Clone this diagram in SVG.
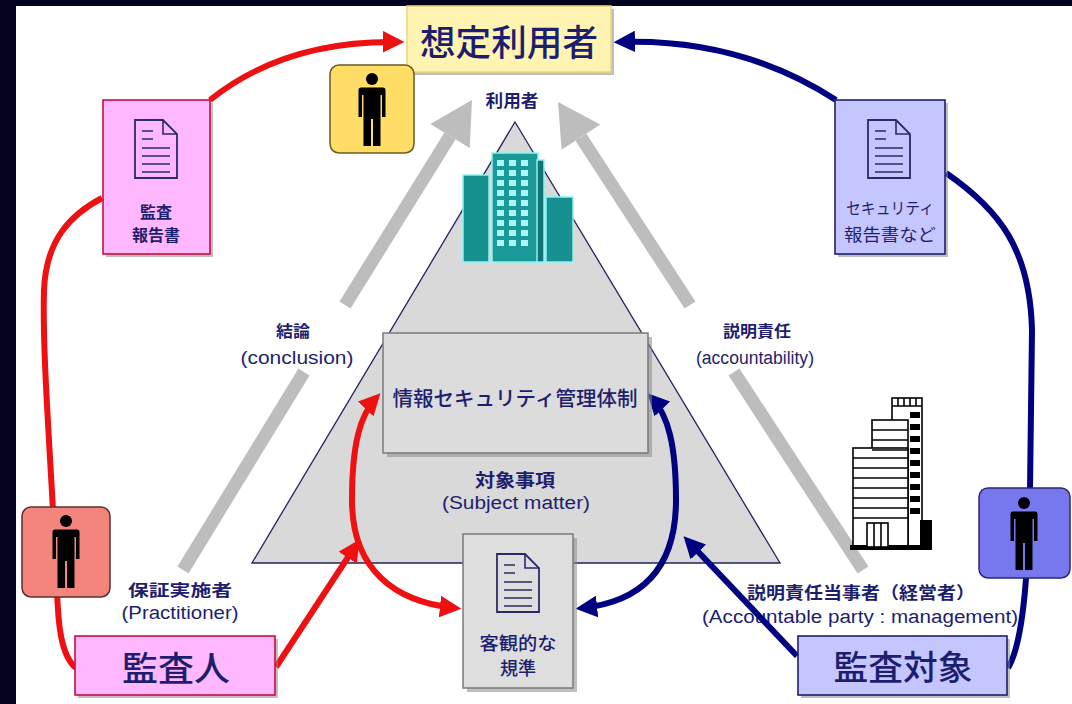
<svg xmlns="http://www.w3.org/2000/svg" width="1072" height="704" viewBox="0 0 1072 704">
  <defs>
    <style>
      .jp { font-family: "Noto Sans CJK JP", "Noto Sans", sans-serif; fill: #1e1e6e; text-anchor: middle; }
      .en { font-family: "Liberation Sans", Arial, sans-serif; fill: #1e1e6e; text-anchor: middle; font-size: 18px; }
      .b { font-weight: bold; }
      .m { font-weight: 500; }
      .shadow { fill: #8a8a8a; opacity: 0.55; }
      .gray-arrow { stroke: #bdbdbd; stroke-width: 13; fill: none; }
      .red { stroke: #ee1111; stroke-width: 6; fill: none; }
      .blue { stroke: #000080; stroke-width: 6; fill: none; }
      .docline { stroke: #2a2a6a; stroke-width: 1.6; }
    </style>
    <marker id="headRed" viewBox="0 0 10 10" refX="7" refY="5" markerWidth="3.6" markerHeight="3.6" orient="auto-start-reverse">
      <path d="M0,0 L10,5 L0,10 Z" fill="#ee1111"/>
    </marker>
    <marker id="headBlue" viewBox="0 0 10 10" refX="7" refY="5" markerWidth="3.6" markerHeight="3.6" orient="auto-start-reverse">
      <path d="M0,0 L10,5 L0,10 Z" fill="#000080"/>
    </marker>
    <!-- standing person pictogram, origin at top centre -->
    <g id="person">
      <circle cx="0" cy="6" r="6" fill="#000"/>
      <path d="M -13.5,17 Q -13.5,14.5 -11,14.5 L 11,14.5 Q 13.5,14.5 13.5,17 L 13.5,44 L 10,44 L 10,22 L 8.5,22 L 8.5,73 L 1,73 L 1,46 L -1,46 L -1,73 L -8.5,73 L -8.5,22 L -10,22 L -10,44 L -13.5,44 Z" fill="#000"/>
    </g>
    <!-- document sheet with folded corner -->
    <g id="doc">
      <path d="M0,0 H28 L42,14 V58 H0 Z" fill="none" stroke="#2a2a6a" stroke-width="1.8"/>
      <path d="M28,0 V14 H42" fill="none" stroke="#2a2a6a" stroke-width="1.6"/>
      <path class="docline" d="M7,11 H18 M7,19 H18 M7,28 H35 M7,36 H35 M7,44 H35 M7,52 H35"/>
    </g>
  </defs>

  <!-- frame -->
  <rect x="0" y="0" width="1072" height="704" fill="#03031f"/>
  <rect x="16" y="6" width="1056" height="698" fill="#ffffff"/>

  <!-- wide gray flow arrows toward the users -->
  <g id="flow-arrows">
    <path class="gray-arrow" d="M183,570 L304,372 M345,305 L450,136"/>
    <path d="M472,100 L469.7,148 L430.3,124 Z" fill="#bdbdbd"/>
    <path class="gray-arrow" d="M863,570 L734,372 M690,305 L580.9,137.2"/>
    <path d="M558,102 L600.2,124.6 L561.6,149.8 Z" fill="#bdbdbd"/>
  </g>

  <!-- subject-matter triangle -->
  <g id="triangle">
    <path d="M515,122 L780,563 L252,563 Z" fill="#d9d9d9" stroke="#23235f" stroke-width="1.3"/>
  </g>

  <!-- teal office towers -->
  <g id="teal-building" stroke="#8ff2f2" stroke-width="1.5">
    <rect x="463" y="175" width="26" height="87" fill="#179090"/>
    <rect x="492" y="153" width="46" height="109" fill="#1a9999"/>
    <rect x="537" y="160" width="7" height="102" fill="#127474"/>
    <rect x="546" y="197" width="27" height="65" fill="#179090"/>
    <g fill="#aef6f6" stroke="none">
      <rect x="497" y="160" width="7" height="6"/><rect x="509" y="160" width="7" height="6"/><rect x="521" y="160" width="7" height="6"/>
      <rect x="497" y="170" width="7" height="6"/><rect x="509" y="170" width="7" height="6"/><rect x="521" y="170" width="7" height="6"/>
      <rect x="497" y="180" width="7" height="6"/><rect x="509" y="180" width="7" height="6"/><rect x="521" y="180" width="7" height="6"/>
      <rect x="497" y="190" width="7" height="6"/><rect x="509" y="190" width="7" height="6"/><rect x="521" y="190" width="7" height="6"/>
      <rect x="497" y="200" width="7" height="6"/><rect x="509" y="200" width="7" height="6"/><rect x="521" y="200" width="7" height="6"/>
      <rect x="497" y="210" width="7" height="6"/><rect x="509" y="210" width="7" height="6"/><rect x="521" y="210" width="7" height="6"/>
      <rect x="497" y="220" width="7" height="6"/><rect x="509" y="220" width="7" height="6"/><rect x="521" y="220" width="7" height="6"/>
      <rect x="497" y="230" width="7" height="6"/><rect x="509" y="230" width="7" height="6"/><rect x="521" y="230" width="7" height="6"/>
      <rect x="497" y="240" width="7" height="6"/><rect x="509" y="240" width="7" height="6"/><rect x="521" y="240" width="7" height="6"/>
    </g>
  </g>

  <!-- black-and-white office building -->
  <g id="mono-building" stroke="#000" stroke-width="1.6" fill="#fff">
    <rect x="892" y="398" width="30" height="150"/>
    <rect x="872" y="420" width="36" height="128"/>
    <rect x="853" y="448" width="55" height="100"/>
    <path d="M892,406 H922 M853,458 H908 M853,468 H908 M853,478 H908 M853,488 H908 M853,498 H908 M853,508 H908 M853,518 H908 M872,430 H908 M872,440 H908 M872,450 H908" fill="none"/>
    <path d="M898,398 V406 M904,398 V406 M910,398 V406 M916,398 V406" fill="none"/>
    <g fill="#000" stroke="none">
      <rect x="910" y="412" width="10" height="6"/><rect x="910" y="424" width="10" height="6"/>
      <rect x="910" y="436" width="10" height="6"/><rect x="910" y="448" width="10" height="6"/>
      <rect x="910" y="460" width="10" height="6"/><rect x="910" y="472" width="10" height="6"/>
      <rect x="910" y="484" width="10" height="6"/><rect x="910" y="496" width="10" height="6"/>
      <rect x="910" y="508" width="10" height="6"/>
      <rect x="920" y="520" width="12" height="28"/>
      <rect x="850" y="545" width="82" height="5"/>
    </g>
    <rect x="867" y="523" width="21" height="24"/>
    <path d="M874,523 V547 M881,523 V547" fill="none"/>
  </g>

  <!-- free-standing labels -->
  <g id="labels">
    <text class="jp b" x="512" y="107" font-size="17" textLength="53" lengthAdjust="spacingAndGlyphs">利用者</text>
    <text class="jp b" x="293" y="337" font-size="16" textLength="34" lengthAdjust="spacingAndGlyphs">結論</text>
    <text class="en" x="297" y="364" textLength="113" lengthAdjust="spacingAndGlyphs">(conclusion)</text>
    <text class="jp b" x="757" y="337" font-size="16" textLength="68" lengthAdjust="spacingAndGlyphs">説明責任</text>
    <text class="en" x="755" y="364" textLength="118" lengthAdjust="spacingAndGlyphs">(accountability)</text>
    <text class="jp b" x="515" y="487" font-size="18" textLength="80" lengthAdjust="spacingAndGlyphs">対象事項</text>
    <text class="en" x="516" y="509" textLength="148" lengthAdjust="spacingAndGlyphs">(Subject matter)</text>
    <text class="jp b" x="180" y="596" font-size="16" textLength="104" lengthAdjust="spacingAndGlyphs">保証実施者</text>
    <text class="en" x="180" y="619" textLength="117" lengthAdjust="spacingAndGlyphs">(Practitioner)</text>
    <text class="jp b" x="861" y="599" font-size="17" textLength="228" lengthAdjust="spacingAndGlyphs">説明責任当事者（経営者）</text>
    <text class="en" x="860" y="623" textLength="316" lengthAdjust="spacingAndGlyphs">(Accountable party : management)</text>
  </g>

  <!-- connectors -->
  <g id="connectors">
    <path class="red" d="M76,668 C60,655 58,620 57,590 C52,470 42,360 44,290 C46,240 70,215 102,198"/>
    <path class="red" d="M210,100 Q285,40 398,42" marker-end="url(#headRed)"/>
    <path class="red" d="M276,667 L356,545" marker-end="url(#headRed)"/>
    <path class="red" d="M455,608 C395,602 352,570 352,500 C352,445 360,415 376,398" marker-start="url(#headRed)" marker-end="url(#headRed)"/>
    <path class="blue" d="M946,173 C1000,210 1030,250 1032,330 L1030,490 C1028,560 1025,640 1008,668"/>
    <path class="blue" d="M836,100 Q740,38 620,42" marker-end="url(#headBlue)"/>
    <path class="blue" d="M797,656 L688,541" marker-end="url(#headBlue)"/>
    <path class="blue" d="M582,608 C640,602 676,570 676,500 C676,445 668,415 652,398" marker-start="url(#headBlue)" marker-end="url(#headBlue)"/>
  </g>

  <!-- intended users -->
  <g id="intended-users">
    <rect class="shadow" x="410" y="9" width="204" height="66"/>
    <rect x="407" y="6" width="204" height="66" fill="#fff4b2" stroke="#eed67a" stroke-width="1.5"/>
    <text class="jp m" x="509" y="56" font-size="36" textLength="178" lengthAdjust="spacingAndGlyphs">想定利用者</text>
  </g>

  <g id="user-person">
    <rect x="330" y="65" width="84" height="88" rx="9" fill="#ffdd66" stroke="#6a5a20" stroke-width="1.5"/>
    <use href="#person" x="372" y="73"/>
  </g>

  <!-- audit report -->
  <g id="audit-report">
    <rect class="shadow" x="106" y="103" width="107" height="154"/>
    <rect x="103" y="100" width="107" height="154" fill="#ffb8ff" stroke="#c8103a" stroke-width="1.6"/>
    <use href="#doc" x="135" y="120"/>
    <text class="jp b" x="156" y="218" font-size="16">監査</text>
    <text class="jp b" x="156" y="241" font-size="16">報告書</text>
  </g>

  <!-- security report -->
  <g id="security-report">
    <rect class="shadow" x="838" y="103" width="110" height="154"/>
    <rect x="835" y="100" width="110" height="154" fill="#c6c6ff" stroke="#1e1e6e" stroke-width="1.6"/>
    <use href="#doc" x="868" y="120"/>
    <text class="jp" x="890" y="214" font-size="16" textLength="88" lengthAdjust="spacingAndGlyphs">セキュリティ</text>
    <text class="jp" x="890" y="241" font-size="17" textLength="92" lengthAdjust="spacingAndGlyphs">報告書など</text>
  </g>

  <!-- information security management system -->
  <g id="isms">
    <rect class="shadow" x="387" y="337" width="265" height="120"/>
    <rect x="383" y="333" width="265" height="120" fill="#dcdcdc" stroke="#7a7a7a" stroke-width="1.5"/>
    <text class="jp m" x="515" y="406" font-size="20" textLength="245" lengthAdjust="spacingAndGlyphs">情報セキュリティ管理体制</text>
  </g>

  <!-- objective criteria -->
  <g id="criteria">
    <rect class="shadow" x="467" y="538" width="110" height="154"/>
    <rect x="463" y="534" width="110" height="154" fill="#dedede" stroke="#7a7a7a" stroke-width="1.5"/>
    <use href="#doc" x="497" y="554"/>
    <text class="jp m" x="518" y="650" font-size="18" textLength="77" lengthAdjust="spacingAndGlyphs">客観的な</text>
    <text class="jp m" x="518" y="675" font-size="18">規準</text>
  </g>

  <!-- practitioner -->
  <g id="practitioner-person">
    <rect x="22" y="507" width="88" height="90" rx="9" fill="#f4857d" stroke="#5a3030" stroke-width="1.5"/>
    <use href="#person" x="66" y="515"/>
  </g>
  <g id="auditor">
    <rect class="shadow" x="78" y="639" width="200" height="59"/>
    <rect x="75" y="636" width="200" height="59" fill="#ffb8ff" stroke="#c8103a" stroke-width="1.6"/>
    <text class="jp m" x="176" y="681" font-size="34" textLength="108" lengthAdjust="spacingAndGlyphs">監査人</text>
  </g>

  <!-- audited party -->
  <g id="auditee-person">
    <rect x="979" y="488" width="91" height="90" rx="9" fill="#7777ee" stroke="#2a2a70" stroke-width="1.5"/>
    <use href="#person" x="1024" y="497"/>
  </g>
  <g id="auditee">
    <rect class="shadow" x="801" y="639" width="209" height="59"/>
    <rect x="798" y="636" width="209" height="59" fill="#c6c6ff" stroke="#1e1e6e" stroke-width="1.6"/>
    <text class="jp m" x="903" y="680" font-size="34" textLength="139" lengthAdjust="spacingAndGlyphs">監査対象</text>
  </g>
</svg>
